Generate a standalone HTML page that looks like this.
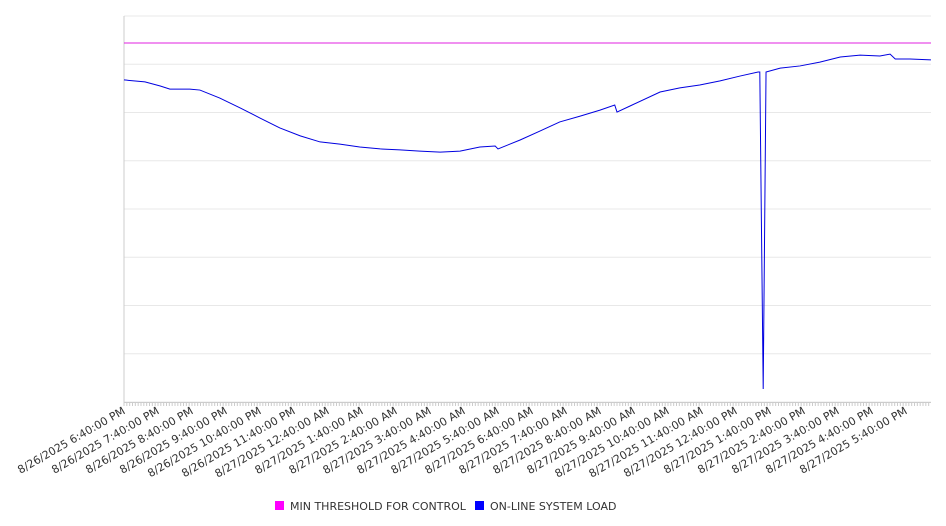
<!DOCTYPE html>
<html><head><meta charset="utf-8"><style>
body{margin:0;background:#fff;font-family:"Liberation Sans","DejaVu Sans",sans-serif}
svg{display:block}
text{font-family:"DejaVu Sans","Liberation Sans",sans-serif;fill:#333}
</style></head><body>
<svg id="c" width="946" height="526"></svg>
<script>
const times=[0,37,64,81,116,134,169,205,240,275,311,346,381,416,452,487,522,558,593,628,655,660,699,734,769,805,840,866,870,893,946,981,1016,1052,1087,1119,1122,1128,1133,1158,1193,1228,1264,1299,1334,1352,1361,1387,1424];
const loadValues=[1335,1327,1310,1297,1297,1293,1260,1219,1177,1136,1103,1078,1069,1057,1049,1045,1040,1036,1040,1057,1061,1049,1086,1123,1161,1185,1210,1231,1202,1227,1285,1302,1314,1331,1351,1368,1368,54,1368,1384,1393,1409,1430,1438,1434,1442,1422,1422,1418];
const thresholdValue=1488;
const tickLabels=["8/26/2025 6:40:00 PM","8/26/2025 7:40:00 PM","8/26/2025 8:40:00 PM","8/26/2025 9:40:00 PM","8/26/2025 10:40:00 PM","8/26/2025 11:40:00 PM","8/27/2025 12:40:00 AM","8/27/2025 1:40:00 AM","8/27/2025 2:40:00 AM","8/27/2025 3:40:00 AM","8/27/2025 4:40:00 AM","8/27/2025 5:40:00 AM","8/27/2025 6:40:00 AM","8/27/2025 7:40:00 AM","8/27/2025 8:40:00 AM","8/27/2025 9:40:00 AM","8/27/2025 10:40:00 AM","8/27/2025 11:40:00 AM","8/27/2025 12:40:00 PM","8/27/2025 1:40:00 PM","8/27/2025 2:40:00 PM","8/27/2025 3:40:00 PM","8/27/2025 4:40:00 PM","8/27/2025 5:40:00 PM"];
const L=124,R=931,T=16,B=402,yMax=1600,tMax=(R-L)/34*60;
const X=t=>L+t/tMax*(R-L);
const Y=v=>B-v/yMax*(B-T);
const s=document.getElementById('c');const NS='http://www.w3.org/2000/svg';
function mk(tag,a,p){const e=document.createElementNS(NS,tag);for(const k in a)e.setAttribute(k,a[k]);(p||s).appendChild(e);return e;}
for(let v=0;v<=yMax;v+=200){const g=mk('line',{x1:L,x2:R,y1:Y(v),y2:Y(v),stroke:'#e8e8e8','stroke-width':1});

}
const ax=mk('line',{x1:L,x2:L,y1:T,y2:B,stroke:'#ccc'});


const xa=mk('line',{x1:L,x2:R,y1:B+0.5,y2:B+0.5,stroke:'#ccc'});


for(let t=0;t<=tMax;t+=5){const tk=mk('line',{x1:X(t),x2:X(t),y1:B,y2:B+4,stroke:'#ccc'});

}
tickLabels.forEach((lab,i)=>{const x=X(i*60);const t=mk('text',{x:x+2,y:B+11,'font-size':11,'text-anchor':'end',transform:`rotate(-30 ${x+2} ${B+11})`});t.textContent=lab;

});
const th=mk('line',{x1:L,x2:R,y1:Y(thresholdValue),y2:Y(thresholdValue),stroke:'#e020e0','stroke-width':1});


const pl=mk('polyline',{points:times.map((t,i)=>X(t)+','+Y(loadValues[i])).join(' '),fill:'none',stroke:'#0000e0','stroke-width':1});


function leg(x,color,label,name){const g=mk('g',{});
mk('rect',{x:x,y:501,width:9,height:9,fill:color},g);const t=mk('text',{x:x+15,y:510,'font-size':11},g);t.textContent=label;}
leg(275,'#ff00ff','MIN THRESHOLD FOR CONTROL','legend-threshold');
leg(475,'#0000ff','ON-LINE SYSTEM LOAD','legend-system-load');
</script>
</body></html>
